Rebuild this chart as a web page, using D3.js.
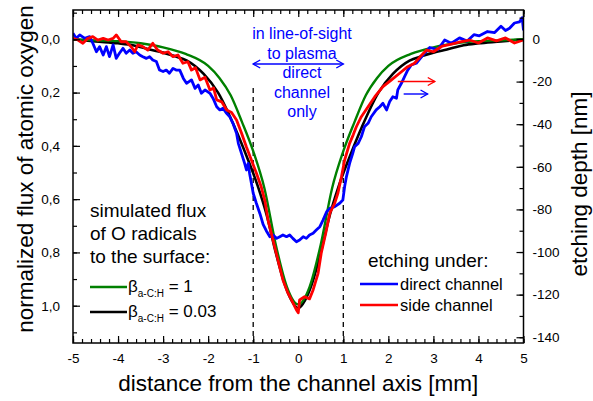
<!DOCTYPE html>
<html lang="en">
<meta charset="utf-8">
<head>
<style>
  body { margin: 0; background: #fff; }
  text { font-family: "Liberation Sans", Arial, sans-serif; }
</style>
<script src="https://d3js.org/d3.v7.min.js"></script>
</head>
<body>
<script>
// ---- data ----
// simulated flux, beta = 1 (green)
var simX1 = [-5, -4.5, -4, -3.5, -3, -2.5, -2, -1.75, -1.5, -1.25, -1, -0.75, -0.5, -0.25, 0,
             0.25, 0.5, 0.75, 1, 1.25, 1.5, 1.75, 2, 2.5, 3, 3.5, 4, 4.5, 5];
var simFlux1 = [0, 0.004, 0.007, 0.015, 0.03, 0.055, 0.10, 0.145, 0.21, 0.31, 0.42, 0.56, 0.77, 0.93, 0.995,
                0.93, 0.77, 0.56, 0.42, 0.31, 0.21, 0.145, 0.10, 0.055, 0.03, 0.015, 0.007, 0.004, 0];
// simulated flux, beta = 0.03 (black)
var simX2 = [-5, -4.5, -4, -3.67, -3.3, -3, -2.75, -2.47, -2.1, -1.78, -1.41, -1.12, -0.9, -0.7, -0.5, -0.3, -0.15, 0,
             0.15, 0.3, 0.5, 0.7, 0.9, 1.12, 1.41, 1.78, 2.1, 2.47, 2.75, 3, 3.3, 3.67, 4, 4.5, 5];
var simFlux2 = [0, 0.008, 0.015, 0.022, 0.038, 0.05, 0.063, 0.08, 0.13, 0.20, 0.33, 0.45, 0.55, 0.66, 0.80, 0.92, 0.98, 1.01,
                0.98, 0.92, 0.80, 0.66, 0.55, 0.45, 0.33, 0.20, 0.13, 0.08, 0.063, 0.05, 0.038, 0.022, 0.015, 0.008, 0];
// etching depth [nm], direct channel (blue)
var directX = [-5, -4.93, -4.85, -4.74, -4.63, -4.56, -4.48, -4.41, -4.33, -4.26, -4.19, -4.11, -4.04, -3.97, -3.89,
  -3.82, -3.74, -3.67, -3.6, -3.52, -3.45, -3.37, -3.3, -3.23, -3.15, -3.08, -3, -2.93, -2.86, -2.78, -2.71,
  -2.63, -2.55, -2.48, -2.37, -2.29, -2.22, -2.15, -2.07, -1.96, -1.89, -1.81, -1.74, -1.67, -1.59, -1.52,
  -1.45, -1.37, -1.33, -1.26, -1.19, -1.15, -1.11, -1.08, -1.04, -1, -0.93, -0.85, -0.78, -0.71, -0.63,
  -0.56, -0.48, -0.41, -0.34, -0.26, -0.19, -0.12, -0.04, 0.03, 0.11, 0.18, 0.25, 0.33, 0.4, 0.48, 0.55,
  0.63, 0.7, 0.81, 0.92, 0.99, 1.03, 1.07, 1.14, 1.21, 1.25, 1.33, 1.4, 1.47, 1.55, 1.62, 1.73, 1.81, 1.88,
  1.96, 2.03, 2.1, 2.18, 2.21, 2.29, 2.36, 2.43, 2.51, 2.62, 2.75, 2.92, 3.1, 3.25, 3.4, 3.58, 3.75, 3.9,
  4.02, 4.2, 4.36, 4.5, 4.6, 4.69, 4.8, 4.91, 4.97, 5];
var directDepth = [2.7, 0.3, 1.9, 0.3, 1.1, -2, -6, -3.6, -7.5, -3.6, -8.3, -2.8, -9.1, -6.7, -4.4,
  -6.7, -5.2, -6.7, -6, -7.5, -8.3, -9.1, -8.3, -9.9, -10.6, -14.6, -15.3, -14.6, -16.1, -13.8, -14.6,
  -14.6, -18.5, -20.8, -19.2, -23.2, -21.6, -25.5, -23.9, -25.5, -27.9, -31.8, -33.3, -32.5, -34.9, -36.5,
  -39.6, -44.3, -49, -53.7, -58.4, -61.5, -58.4, -63.1, -67.7, -72.4, -77.1, -82, -87, -90, -92.8,
  -92, -93.6, -92.8, -92, -92.8, -92, -93.6, -95.2, -94.4, -92.8, -93.6, -92, -91.2, -89.7, -88.1, -85,
  -81.1, -79.5, -78.7, -77.1, -75.6, -69.3, -64.6, -58.4, -53.7, -50.6, -49, -45.9, -41.2, -39.6, -36.5, -33.3, -31.8, -30.2,
  -33.3, -29.4, -27.1, -27.8, -23.9, -20.8, -17.7, -14.6, -12.2, -11.4, -8, -4, -5, -0.5, -2, 0.5, -1, 2,
  1.5, 3.5, 3, 6, 4, 5, 7.5, 8, 10, 4];
// etching depth [nm], side channel (red)
var sideX = [-5, -4.89, -4.78, -4.67, -4.56, -4.45, -4.33, -4.22, -4.11, -4.04, -3.93, -3.82, -3.71, -3.63,
  -3.56, -3.45, -3.34, -3.23, -3.12, -3, -2.89, -2.78, -2.67, -2.56, -2.45, -2.37, -2.28, -2.18, -2.07,
  -1.96, -1.88, -1.81, -1.7, -1.59, -1.48, -1.37, -1.26, -1.15, -1.04, -0.93, -0.82, -0.74, -0.67, -0.56,
  -0.45, -0.34, -0.23, -0.15, -0.04, 0, 0.03, 0.14, 0.25, 0.33, 0.44, 0.51, 0.61, 0.7, 0.81, 0.88, 0.96,
  1.03, 1.14, 1.22, 1.29, 1.4, 1.55, 1.7, 1.88, 2.07, 2.25, 2.43, 2.58, 2.7, 2.85, 3, 3.2, 3.4, 3.6, 3.8,
  4, 4.2, 4.4, 4.6, 4.8, 5];
var sideDepth = [0.3, -0.5, -2, 0.3, 1.1, -0.5, 0.3, -0.5, 0.3, 1.9, -1.3, -1.3, -3.6, -6,
  -2.8, -3.6, -5.2, -2, -5.2, -6.7, -6, -8.3, -7.5, -11.4, -10.7, -14.6, -13.5, -19.2, -18,
  -23.9, -23, -28.6, -29.5, -33.3, -34.5, -38, -44.1, -50.7, -56.8, -62.9, -69.5, -76, -85, -94.4,
  -103.8, -113.1, -119.2, -122.5, -127.2, -128.5, -122.5, -121, -122, -117.8, -110, -100.6, -91.2, -81.8, -77, -72.4, -64.6,
  -56.8, -49, -45, -41.2, -36.5, -31.8, -27.1, -22.4, -19.2, -16.1, -13, -11.4, -8.5, -5.2, -6, -3.3, -2.4, -1.4, -0.5,
  -1.9, 0.5, -0.9, 0.5, -1.9, -0.5];

var xTicks = [-5, -4, -3, -2, -1, 0, 1, 2, 3, 4, 5];
var fluxTicks = [0, 0.2, 0.4, 0.6, 0.8, 1.0];
var depthTicks = [0, -20, -40, -60, -80, -100, -120, -140];

// ---- layout ----
var width = 593, height = 401;
var pLeft = 73, pRight = 523.5, pTop = 10, pBottom = 343;

var svg = d3.select("body").append("svg")
  .attr("width", width).attr("height", height);

var x = d3.scaleLinear().domain([-5, 5]).range([pLeft, pRight]);
var yL = d3.scaleLinear().domain([-0.11, 1.14]).range([pTop, pBottom]);
var yR = d3.scaleLinear().domain([13.6, -142.7]).range([pTop, pBottom]);

svg.append("clipPath").attr("id", "clip")
  .append("rect").attr("x", pLeft).attr("y", pTop)
  .attr("width", pRight - pLeft).attr("height", pBottom - pTop);

// dashed lines at +-1 mm
[-1, 1].forEach(function (v) {
  svg.append("line")
    .attr("x1", x(v)).attr("x2", x(v))
    .attr("y1", 88).attr("y2", pBottom)
    .attr("stroke", "#000").attr("stroke-width", 1.3)
    .attr("stroke-dasharray", "5,4");
});

var plot = svg.append("g").attr("clip-path", "url(#clip)");

function pairs(xs, ys) { return xs.map(function (d, i) { return [d, ys[i]]; }); }

var simLine = d3.line().x(function (d) { return x(d[0]); }).y(function (d) { return yL(d[1]); })
  .curve(d3.curveMonotoneX);
var expLine = d3.line().x(function (d) { return x(d[0]); }).y(function (d) { return yR(d[1]); });

plot.append("path").datum(pairs(simX2, simFlux2)).attr("d", simLine)
  .attr("fill", "none").attr("stroke", "#000").attr("stroke-width", 2.6);
plot.append("path").datum(pairs(simX1, simFlux1)).attr("d", simLine)
  .attr("fill", "none").attr("stroke", "#008000").attr("stroke-width", 2.4);
plot.append("path").datum(pairs(directX, directDepth)).attr("d", expLine)
  .attr("fill", "none").attr("stroke", "#0000ff").attr("stroke-width", 2.8).attr("stroke-linejoin", "round");
plot.append("path").datum(pairs(sideX, sideDepth)).attr("d", expLine)
  .attr("fill", "none").attr("stroke", "#ff0000").attr("stroke-width", 2.8).attr("stroke-linejoin", "round");

// ---- axes, ticks all inward ----
function fmtComma(d) { return d3.format(".1f")(d).replace(".", ","); }
function fmtInt(d) { return String(Math.round(d)); }

function styleAxis(g) {
  g.select(".domain").remove();
  g.selectAll("line").attr("stroke", "#000").attr("stroke-width", 1.2);
  g.selectAll("text").attr("fill", "#000")
    .style("font-family", "'Liberation Sans', Arial, sans-serif").style("font-size", "13.5px");
}

svg.append("g").attr("transform", "translate(0," + pBottom + ")")
  .call(d3.axisBottom(x).tickValues(d3.range(-5, 5.01, 0.2)).tickSize(-4).tickFormat(""))
  .call(styleAxis);
svg.append("g").attr("transform", "translate(0," + pBottom + ")")
  .call(d3.axisBottom(x).tickValues(xTicks).tickSize(-7).tickPadding(10).tickFormat(fmtInt))
  .call(styleAxis);
svg.append("g").attr("transform", "translate(0," + pTop + ")")
  .call(d3.axisTop(x).tickValues(d3.range(-5, 5.01, 0.2)).tickSize(-4).tickFormat(""))
  .call(styleAxis);
svg.append("g").attr("transform", "translate(0," + pTop + ")")
  .call(d3.axisTop(x).tickValues(xTicks).tickSize(-7).tickFormat(""))
  .call(styleAxis);

svg.append("g").attr("transform", "translate(" + pLeft + ",0)")
  .call(d3.axisLeft(yL).tickValues(d3.range(-0.1, 1.11, 0.1)).tickSize(-4).tickFormat(""))
  .call(styleAxis);
svg.append("g").attr("transform", "translate(" + pLeft + ",0)")
  .call(d3.axisLeft(yL).tickValues(fluxTicks).tickSize(-7).tickPadding(13).tickFormat(fmtComma))
  .call(styleAxis);

svg.append("g").attr("transform", "translate(" + pRight + ",0)")
  .call(d3.axisRight(yR).tickValues(d3.range(10, -141, -10)).tickSize(-4).tickFormat(""))
  .call(styleAxis);
svg.append("g").attr("transform", "translate(" + pRight + ",0)")
  .call(d3.axisRight(yR).tickValues(depthTicks).tickSize(-7).tickPadding(9).tickFormat(fmtInt))
  .call(styleAxis);

// frame
svg.append("rect").attr("x", pLeft).attr("y", pTop)
  .attr("width", pRight - pLeft).attr("height", pBottom - pTop)
  .attr("fill", "none").attr("stroke", "#000").attr("stroke-width", 1.5);

// axis titles
svg.append("text").attr("transform", "translate(33,169) rotate(-90)")
  .attr("text-anchor", "middle").style("font-size", "22.5px").text("normalized flux of atomic oxygen");
svg.append("text").attr("transform", "translate(587,184) rotate(-90)")
  .attr("text-anchor", "middle").style("font-size", "22.5px").text("etching depth [nm]");
svg.append("text").attr("x", (pLeft + pRight) / 2).attr("y", 391)
  .attr("text-anchor", "middle").style("font-size", "22.5px").text("distance from the channel axis [mm]");

// ---- annotation in the middle ----
var blue = "#0000ff", red = "#ff0000";
var noteLines = ["in line-of-sight", "to plasma", "direct", "channel", "only"];
svg.selectAll(".note").data(noteLines).enter().append("text")
  .attr("x", 302).attr("y", function (d, i) { return 39 + i * 19.5; })
  .attr("text-anchor", "middle").attr("fill", blue).style("font-size", "16px")
  .text(function (d) { return d; });

function arrow(x1, x2, yy, color, both) {
  svg.append("line").attr("x1", x1).attr("x2", x2).attr("y1", yy).attr("y2", yy)
    .attr("stroke", color).attr("stroke-width", 1.4);
  var h = 7, w = 4;
  svg.append("path").attr("d", "M" + (x2 - h) + "," + (yy - w) + "L" + x2 + "," + yy + "L" + (x2 - h) + "," + (yy + w))
    .attr("fill", "none").attr("stroke", color).attr("stroke-width", 1.4);
  if (both) {
    svg.append("path").attr("d", "M" + (x1 + h) + "," + (yy - w) + "L" + x1 + "," + yy + "L" + (x1 + h) + "," + (yy + w))
      .attr("fill", "none").attr("stroke", color).attr("stroke-width", 1.4);
  }
}
arrow(x(-1), x(1), 64, blue, true);
arrow(x(2.21), x(3.03), 81.5, red, false);
arrow(x(2.34), x(2.87), 94, blue, false);

// ---- legends ----
var simText = ["simulated flux", "of O radicals", "to the surface:"];
svg.selectAll(".simtxt").data(simText).enter().append("text")
  .attr("x", 90).attr("y", function (d, i) { return 217 + i * 23; })
  .style("font-size", "19px").text(function (d) { return d; });

var simLeg = [{ c: "#008000", v: "1", y: 287 }, { c: "#000", v: "0.03", y: 312 }];
simLeg.forEach(function (d) {
  svg.append("line").attr("x1", 90).attr("x2", 127).attr("y1", d.y).attr("y2", d.y)
    .attr("stroke", d.c).attr("stroke-width", 2.6);
  var t = svg.append("text").attr("x", 128).attr("y", d.y + 5).style("font-size", "17px");
  t.append("tspan").text("\u03b2");
  t.append("tspan").attr("dy", 5).style("font-size", "10px").text("a-C:H");
  t.append("tspan").attr("dy", -5).text(" = " + d.v);
});

svg.append("text").attr("x", 368).attr("y", 267).style("font-size", "19px").text("etching under:");
var expLeg = [{ c: blue, t: "direct channel", y: 284 }, { c: red, t: "side channel", y: 305 }];
expLeg.forEach(function (d) {
  svg.append("line").attr("x1", 360).attr("x2", 398).attr("y1", d.y).attr("y2", d.y)
    .attr("stroke", d.c).attr("stroke-width", 2.6);
  svg.append("text").attr("x", 400).attr("y", d.y + 5.5).style("font-size", "16.5px").text(d.t);
});
</script>
</body>
</html>
